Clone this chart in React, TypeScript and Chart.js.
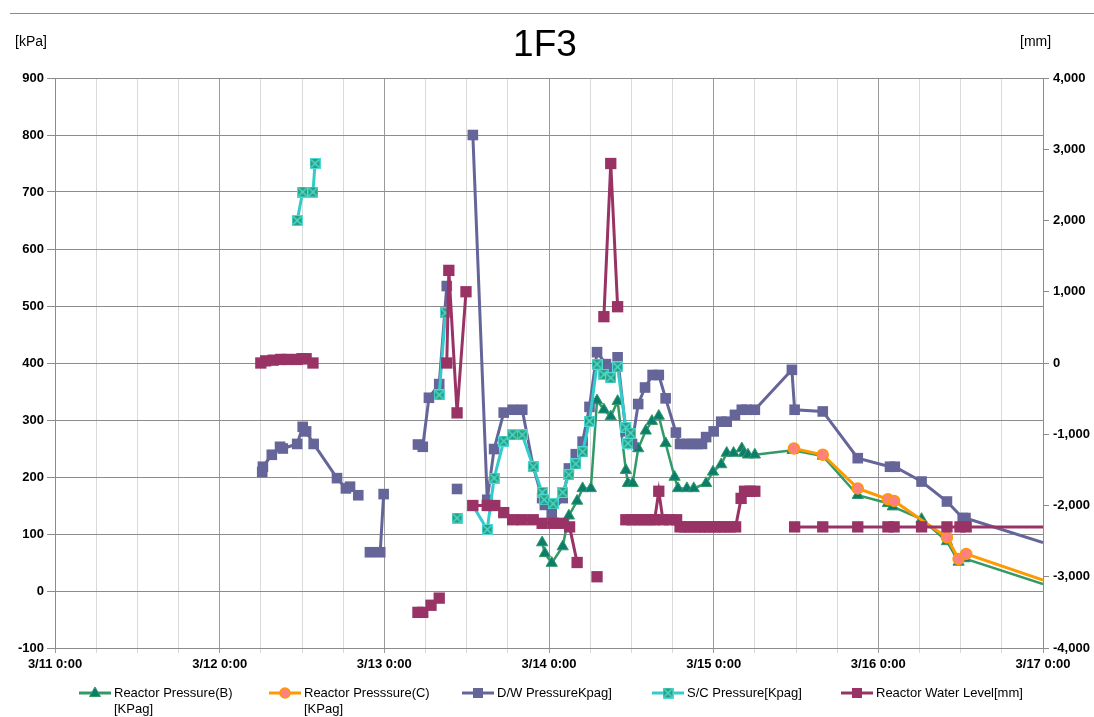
import React, { useEffect, useRef } from 'react';
import { Chart, registerables } from 'chart.js';

Chart.register(...registerables);

// x values: hours since 3/11 0:00
const dayLabels = ['3/11 0:00', '3/12 0:00', '3/13 0:00', '3/14 0:00', '3/15 0:00', '3/16 0:00', '3/17 0:00'];

const pbTimes = [71.0, 71.4, 72.4, 74.0, 74.9, 76.1, 76.9, 78.1, 79.0, 80.0, 81.0, 82.0, 83.2, 83.5, 84.2, 85.0, 86.1, 87.0, 88.0, 89.0, 90.3, 90.8, 92.1, 93.1, 94.9, 95.9, 97.1, 97.9, 98.9, 100.1, 100.4, 101.0, 102.0, 107.5, 111.9, 117.0, 121.4, 122.1, 126.3, 130.0, 131.7, 132.6, 144];
const pbValues = [85, 66, 49, 78, 132, 158, 180, 180, 334, 318, 306, 333, 212, 189, 189, 250, 281, 298, 307, 259, 200, 180, 180, 180, 189, 209, 222, 242, 242, 250, 242, 239, 239, 247, 237, 168, 154, 148, 126, 87, 51, 57, 12];

const pcTimes = [107.7, 111.9, 117.0, 121.4, 122.3, 130.0, 131.7, 132.8, 144];
const pcValues = [250, 239, 180, 161, 158, 94, 56, 65, 19];

const dwTimes = [30.2, 30.3, 31.6, 32.8, 33.2, 35.3, 36.1, 36.6, 37.7, 41.1, 42.4, 43.0, 44.2, 45.0, 45.9, 47.4, 47.9, 50.0, 52.9, 53.6, 54.5, 56.0, 57.1, 58.0, 58.6, 60.0, 60.9, 63.0, 64.0, 65.4, 66.7, 68.1, 69.7, 71.0, 71.4, 72.4, 74.0, 74.9, 75.9, 76.9, 77.9, 79.0, 80.3, 80.9, 82.0, 83.2, 84.1, 85.0, 86.0, 87.1, 88.0, 89.0, 90.5, 91.1, 92.1, 92.8, 93.6, 94.3, 94.9, 96.0, 97.1, 97.9, 99.1, 100.1, 100.8, 102.0, 107.4, 107.8, 111.9, 117.0, 121.7, 122.4, 126.3, 130.0, 132.3, 132.7, 144];
const dwValues = [209, 218, 239, 253, 250, 258, 288, 280, 258, 198, 180, 183, 168, null, 68, 68, 170, null, 257, 253, 339, 363, 535, null, 179, null, 800, 160, 249, 313, 318, 318, 218, 163, 151, 136, 163, 215, 240, 262, 323, 419, 398, 391, 410, 280, 258, 328, 357, 379, 379, 338, 278, 258, 258, 258, 258, 258, 270, 280, 297, 297, 309, 318, 318, 318, 388, 318, 315, 233, 218, 218, 192, 157, 128, 128, 85];

const scTimes = [35.3, 36.1, 37.6, 37.9, 45.0, 56.0, 56.9, 58.0, 58.6, 60.0, 60.9, 63.0, 64.0, 65.4, 66.7, 68.1, 69.7, 71.0, 71.3, 72.6, 74.0, 74.9, 75.9, 76.9, 77.9, 79.0, 80.0, 81.0, 82.0, 83.2, 83.5, 83.9];
const scValues = [650, 700, 700, 750, null, 344, 488, null, 128, null, 150, 108, 198, 263, 274, 274, 218, 173, 160, 153, 173, 204, 223, 244, 298, 398, 380, 374, 393, 287, 259, 277];

const wlTimes = [30.0, 30.7, 31.8, 32.9, 33.8, 35.3, 36.0, 36.6, 37.6, 45.0, 52.9, 53.6, 54.8, 56.0, 56.6, 57.1, 57.4, 58.6, 59.9, 60.4, 60.9, 63.0, 64.1, 65.4, 66.7, 68.1, 69.7, 71.0, 72.6, 74.0, 75.0, 76.1, 78.0, 79.0, 79.5, 80.0, 81.0, 82.0, 82.6, 83.2, 84.1, 85.0, 85.8, 86.7, 87.4, 88.0, 88.6, 89.6, 90.6, 91.1, 91.8, 92.5, 93.3, 94.0, 94.7, 95.4, 96.2, 96.9, 97.6, 98.4, 99.2, 100.0, 100.5, 101.3, 102.0, 105.0, 107.8, 111.9, 117.0, 121.4, 122.3, 126.3, 130.0, 131.9, 132.8, 144];
const wlValues = [0, 30, 40, 50, 50, 50, 60, 60, 0, null, -3500, -3500, -3400, -3300, null, 0, 1300, -700, 1000, null, -2000, -2000, -2000, -2100, -2200, -2200, -2200, -2250, -2250, -2250, -2300, -2800, null, -3000, null, 650, 2800, 790, null, -2200, -2200, -2200, -2200, -2200, -2200, -1800, -2200, -2200, -2200, -2300, -2300, -2300, -2300, -2300, -2300, -2300, -2300, -2300, -2300, -2300, -2300, -1900, -1800, -1800, -1800, null, -2300, -2300, -2300, -2300, -2300, -2300, -2300, -2300, -2300, -2300];

const seriesNames = ['Reactor Pressure(B)\n[KPag]', 'Reactor Presssure(C)\n[KPag]', 'D/W PressureKpag]', 'S/C Pressure[Kpag]', 'Reactor Water Level[mm]'];

const toPoints = (t: number[], v: (number | null)[]) => t.map((x, i) => ({ x, y: v[i] }));

const FONT = "'Liberation Sans', Arial, sans-serif";
const NARROW = "'Liberation Sans Narrow', 'Liberation Sans', Arial, sans-serif";

function makeScMarker(): HTMLCanvasElement {
  const c = document.createElement('canvas');
  c.width = 11;
  c.height = 11;
  const g = c.getContext('2d')!;
  g.fillStyle = '#27A07C';
  g.fillRect(0, 0, 11, 11);
  g.strokeStyle = '#4FD8D4';
  g.lineWidth = 1.5;
  g.beginPath();
  g.moveTo(1.5, 1.5);
  g.lineTo(9.5, 9.5);
  g.moveTo(9.5, 1.5);
  g.lineTo(1.5, 9.5);
  g.stroke();
  g.lineWidth = 1;
  g.strokeRect(0.5, 0.5, 10, 10);
  return c;
}

// no marker on the segment that runs off the right edge of the plot
const edgeRadius = (r: number) => (c: any) => (c.raw && c.raw.x >= 144 ? 0 : r);

export default function App() {
  const ref = useRef<HTMLCanvasElement | null>(null);

  useEffect(() => {
    if (!ref.current) return;
    const scMarker = makeScMarker();

    const colors = {
      b: '#339966',
      bFill: '#0B7D6E',
      c: '#FF9900',
      cFill: '#FF8080',
      dw: '#656599',
      sc: '#33CCCC',
      wl: '#993366',
    };

    const decor = {
      id: 'decor',
      afterDraw(chart: any) {
        const ctx = chart.ctx;
        ctx.save();
        ctx.strokeStyle = '#8c8c8c';
        ctx.lineWidth = 1;
        ctx.beginPath();
        ctx.moveTo(10, 13.5);
        ctx.lineTo(1094, 13.5);
        ctx.stroke();
        ctx.fillStyle = '#000';
        ctx.textBaseline = 'middle';
        ctx.textAlign = 'center';
        ctx.font = `37px ${NARROW}`;
        ctx.fillText('1F3', 545, 46);
        ctx.font = `14px ${FONT}`;
        ctx.textAlign = 'left';
        ctx.fillText('[kPa]', 15, 42);
        ctx.fillText('[mm]', 1020, 42);

        const items = [
          { x: 79, color: colors.b, kind: 'tri' },
          { x: 269, color: colors.c, kind: 'circle' },
          { x: 462, color: colors.dw, kind: 'square' },
          { x: 652, color: colors.sc, kind: 'sc' },
          { x: 841, color: colors.wl, kind: 'square' },
        ];
        const ly = 693;
        items.forEach((it, i) => {
          ctx.strokeStyle = it.color;
          ctx.lineWidth = 3;
          ctx.beginPath();
          ctx.moveTo(it.x, ly);
          ctx.lineTo(it.x + 32, ly);
          ctx.stroke();
          const cx = it.x + 16;
          if (it.kind === 'tri') {
            ctx.fillStyle = colors.bFill;
            ctx.strokeStyle = colors.b;
            ctx.lineWidth = 1;
            ctx.beginPath();
            ctx.moveTo(cx, ly - 6);
            ctx.lineTo(cx + 5.5, ly + 3.5);
            ctx.lineTo(cx - 5.5, ly + 3.5);
            ctx.closePath();
            ctx.fill();
            ctx.stroke();
          } else if (it.kind === 'circle') {
            ctx.fillStyle = colors.cFill;
            ctx.strokeStyle = colors.c;
            ctx.lineWidth = 1.5;
            ctx.beginPath();
            ctx.arc(cx, ly, 5, 0, Math.PI * 2);
            ctx.fill();
            ctx.stroke();
          } else if (it.kind === 'square') {
            ctx.fillStyle = it.color;
            ctx.fillRect(cx - 5, ly - 5, 10, 10);
          } else {
            ctx.drawImage(scMarker, cx - 5.5, ly - 5.5);
          }
          ctx.fillStyle = '#000';
          ctx.font = `13px ${FONT}`;
          ctx.textAlign = 'left';
          ctx.textBaseline = 'middle';
          const lines = seriesNames[i].split('\n');
          lines.forEach((t, k) => ctx.fillText(t, it.x + 35, ly + k * 16));
        });
        ctx.restore();
      },
    };

    const chart = new Chart(ref.current, {
      type: 'line',
      data: {
        datasets: [
          {
            label: seriesNames[0],
            data: toPoints(pbTimes, pbValues),
            borderColor: colors.b,
            backgroundColor: colors.bFill,
            pointBorderColor: colors.b,
            pointBackgroundColor: colors.bFill,
            borderWidth: 2.5,
            pointStyle: 'triangle',
            pointRadius: edgeRadius(6.5),
            pointBorderWidth: 1,
            yAxisID: 'y',
            order: 4,
          },
          {
            label: seriesNames[1],
            data: toPoints(pcTimes, pcValues),
            borderColor: colors.c,
            backgroundColor: colors.cFill,
            pointBorderColor: colors.c,
            pointBackgroundColor: colors.cFill,
            borderWidth: 3,
            pointStyle: 'circle',
            pointRadius: edgeRadius(5.5),
            pointBorderWidth: 1.5,
            yAxisID: 'y',
            order: 3,
          },
          {
            label: seriesNames[2],
            data: toPoints(dwTimes, dwValues),
            borderColor: colors.dw,
            backgroundColor: colors.dw,
            pointBackgroundColor: colors.dw,
            pointBorderColor: colors.dw,
            borderWidth: 3,
            pointStyle: 'rect',
            pointRadius: edgeRadius(7.5),
            pointBorderWidth: 0,
            yAxisID: 'y',
            order: 2,
          },
          {
            label: seriesNames[3],
            data: toPoints(scTimes, scValues),
            borderColor: colors.sc,
            backgroundColor: colors.sc,
            borderWidth: 3,
            pointStyle: scMarker as any,
            pointRadius: 5.5,
            yAxisID: 'y',
            order: 1,
          },
          {
            label: seriesNames[4],
            data: toPoints(wlTimes, wlValues),
            borderColor: colors.wl,
            backgroundColor: colors.wl,
            pointBackgroundColor: colors.wl,
            pointBorderColor: colors.wl,
            borderWidth: 3,
            pointStyle: 'rect',
            pointRadius: edgeRadius(8),
            pointBorderWidth: 0,
            yAxisID: 'y2',
            order: 0,
          },
        ],
      },
      options: {
        animation: false,
        responsive: false,
        devicePixelRatio: 1,
        spanGaps: false,
        layout: { padding: { top: 78, bottom: 39, left: 0, right: 0 } },
        plugins: {
          legend: { display: false },
          tooltip: { enabled: false },
          title: { display: false },
        },
        scales: {
          x: {
            type: 'linear',
            min: 0,
            max: 144,
            afterFit: (s: any) => {
              s.height = 30;
            },
            ticks: {
              stepSize: 6,
              autoSkip: false,
              maxRotation: 0,
              minRotation: 0,
              color: '#000',
              padding: 4,
              font: { family: FONT, size: 13, weight: 'bold' },
              callback: (v: any) => (Number(v) % 24 === 0 ? dayLabels[Number(v) / 24] : ''),
            },
            grid: {
              color: (c: any) => (c.tick && c.tick.value % 24 === 0 ? '#9a9a9a' : '#d9d9d9'),
              lineWidth: 1,
              tickLength: 5,
            },
            border: { display: false },
          },
          y: {
            position: 'left',
            min: -100,
            max: 900,
            afterFit: (s: any) => {
              s.width = 55;
            },
            ticks: {
              stepSize: 100,
              color: '#000',
              padding: 3,
              font: { family: FONT, size: 13, weight: 'bold' },
            },
            grid: { color: '#8c8c8c', lineWidth: 1, tickLength: 8 },
            border: { display: true, color: '#8c8c8c' },
          },
          y2: {
            position: 'right',
            min: -4000,
            max: 4000,
            afterFit: (s: any) => {
              s.width = 51;
            },
            ticks: {
              stepSize: 1000,
              color: '#000',
              padding: 4,
              font: { family: FONT, size: 13, weight: 'bold' },
              callback: (v: any) => Number(v).toLocaleString('en-US'),
            },
            grid: { drawOnChartArea: false, color: '#8c8c8c', tickLength: 6 },
            border: { display: true, color: '#8c8c8c' },
          },
        },
      },
      plugins: [decor],
    } as any);

    return () => chart.destroy();
  }, []);

  return (
    <div style={{ position: 'fixed', left: 0, top: 0, width: 1094, height: 717, background: '#fff' }}>
      <canvas ref={ref} width={1094} height={717} style={{ display: 'block' }} />
    </div>
  );
}
